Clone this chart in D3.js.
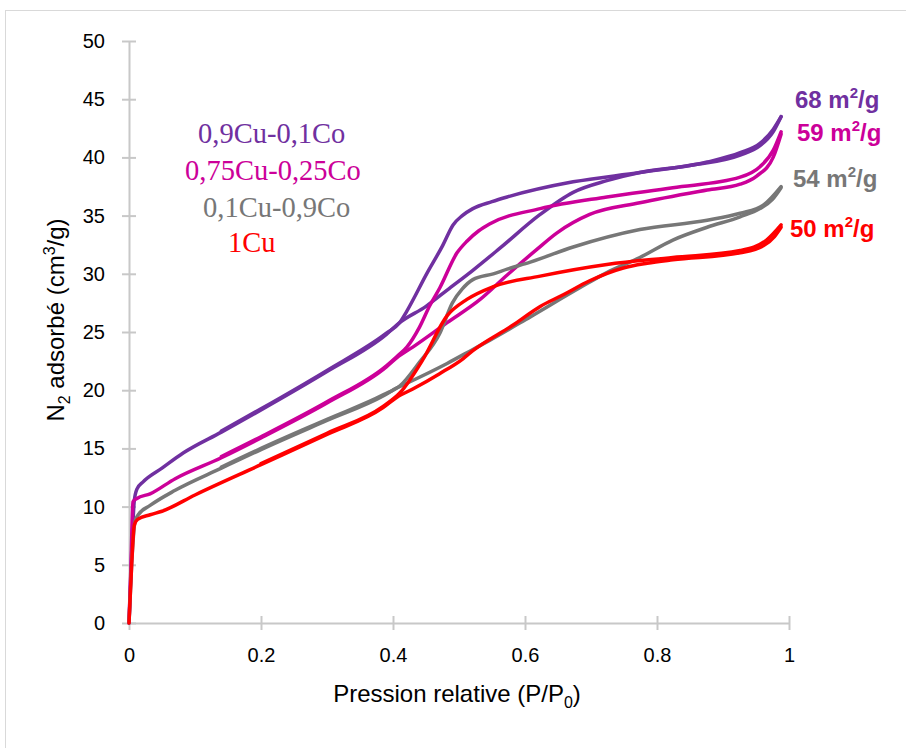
<!DOCTYPE html>
<html>
<head>
<meta charset="utf-8">
<script src="https://cdn.jsdelivr.net/npm/d3@7"></script>
<style>
  html, body { margin: 0; padding: 0; background: #fff; }
  svg { display: block; }
</style>
</head>
<body>
<svg id="chart" width="906" height="748"></svg>
<script>
// ---- Data (x = P/P0, y = N2 adsorbed cm3/g) ----
const xTicks = [0, 0.2, 0.4, 0.6, 0.8, 1];
const xTickLabels = ["0", "0.2", "0.4", "0.6", "0.8", "1"];
const yTicks = [0, 5, 10, 15, 20, 25, 30, 35, 40, 45, 50];

const seriesNames = ["0,9Cu-0,1Co", "0,75Cu-0,25Co", "0,1Cu-0,9Co", "1Cu"];
const surfaceLabels = ["68", "59", "54", "50"];

// 0,9Cu-0,1Co
const purpleAdsX = [0, 0.004, 0.008, 0.012, 0.021, 0.05, 0.082, 0.14, 0.2, 0.3, 0.39, 0.41, 0.45, 0.482, 0.521, 0.562, 0.623, 0.673, 0.724, 0.774, 0.85, 0.926, 0.956, 0.976, 0.988];
const purpleAdsY = [0, 6, 10.5, 11.5, 12.1, 13.3, 14.6, 16.4, 18.3, 21.6, 24.8, 25.8, 27.2, 28.6, 30.3, 32.2, 35.1, 37.0, 38.0, 38.7, 39.3, 40.2, 41.0, 42.2, 43.5];
const purpleDesX = [0.14, 0.2, 0.3, 0.39, 0.41, 0.421, 0.452, 0.475, 0.491, 0.505, 0.521, 0.55, 0.573, 0.673, 0.774, 0.876, 0.926, 0.956, 0.976, 0.988];
const purpleDesY = [16.5, 18.4, 21.7, 24.9, 25.8, 26.8, 30.1, 32.4, 34.2, 35.0, 35.6, 36.2, 36.6, 37.9, 38.7, 39.6, 40.4, 41.2, 42.4, 43.5];

// 0,75Cu-0,25Co
const magentaAdsX = [0, 0.003, 0.006, 0.012, 0.032, 0.07, 0.14, 0.2, 0.3, 0.39, 0.406, 0.43, 0.482, 0.532, 0.573, 0.618, 0.648, 0.698, 0.774, 0.876, 0.926, 0.951, 0.976, 0.988];
const magentaAdsY = [0, 5, 10.4, 10.7, 11.1, 12.4, 14.2, 15.9, 18.9, 22.0, 22.8, 23.7, 25.8, 27.8, 29.9, 32.1, 33.5, 35.1, 36.1, 37.2, 37.7, 38.4, 40.0, 42.0];
const magentaDesX = [0.14, 0.2, 0.3, 0.39, 0.406, 0.421, 0.44, 0.456, 0.471, 0.497, 0.512, 0.53, 0.547, 0.623, 0.724, 0.824, 0.926, 0.956, 0.976, 0.988];
const magentaDesY = [14.3, 16.0, 19.0, 22.1, 22.9, 23.7, 25.4, 27.3, 28.8, 31.8, 32.8, 33.7, 34.3, 35.6, 36.6, 37.4, 38.3, 39.2, 40.6, 42.2];

// 0,1Cu-0,9Co
const grayAdsX = [0, 0.004, 0.009, 0.014, 0.032, 0.07, 0.14, 0.2, 0.3, 0.385, 0.406, 0.421, 0.482, 0.521, 0.547, 0.608, 0.683, 0.724, 0.774, 0.824, 0.876, 0.926, 0.956, 0.975, 0.988];
const grayAdsY = [0, 5, 8.7, 9.3, 10.1, 11.4, 13.3, 14.9, 17.4, 19.5, 20.2, 20.6, 22.3, 23.5, 24.3, 26.3, 28.8, 30.1, 31.4, 32.9, 34.0, 34.9, 35.6, 36.4, 37.4];
const grayDesX = [0.14, 0.2, 0.3, 0.385, 0.411, 0.44, 0.471, 0.49, 0.505, 0.521, 0.552, 0.573, 0.608, 0.673, 0.774, 0.876, 0.926, 0.961, 0.988];
const grayDesY = [13.4, 15.0, 17.5, 19.6, 20.4, 22.4, 24.9, 27.5, 28.7, 29.5, 30.0, 30.4, 31.0, 32.3, 33.8, 34.6, 35.2, 35.9, 37.5];

// 1Cu
const redAdsX = [0, 0.004, 0.008, 0.013, 0.032, 0.05, 0.1, 0.2, 0.3, 0.385, 0.406, 0.43, 0.47, 0.506, 0.521, 0.582, 0.623, 0.658, 0.698, 0.749, 0.785, 0.824, 0.926, 0.961, 0.978, 0.988];
const redAdsY = [0, 5, 8.4, 8.9, 9.3, 9.6, 11.0, 13.6, 16.2, 18.5, 19.4, 20.1, 21.4, 22.7, 23.4, 25.6, 27.2, 28.2, 29.4, 30.5, 30.9, 31.2, 31.8, 32.4, 33.2, 34.0];
const redDesX = [0.2, 0.3, 0.385, 0.411, 0.445, 0.482, 0.512, 0.552, 0.623, 0.724, 0.824, 0.926, 0.966, 0.988];
const redDesY = [13.7, 16.3, 18.6, 19.8, 22.6, 26.4, 27.8, 28.9, 29.8, 30.8, 31.4, 32.0, 32.9, 34.2];

const colors = ["#7030A0", "#CC0099", "#777777", "#FF0000"];

const series = [
  { name: seriesNames[0], color: colors[0], branches: [[purpleAdsX, purpleAdsY], [purpleDesX, purpleDesY]] },
  { name: seriesNames[1], color: colors[1], branches: [[magentaAdsX, magentaAdsY], [magentaDesX, magentaDesY]] },
  { name: seriesNames[2], color: colors[2], branches: [[grayAdsX, grayAdsY], [grayDesX, grayDesY]] },
  { name: seriesNames[3], color: colors[3], branches: [[redAdsX, redAdsY], [redDesX, redDesY]] }
];

// ---- Layout ----
const svg = d3.select("#chart");
const x = d3.scaleLinear().domain([0, 1]).range([129, 789]);
const y = d3.scaleLinear().domain([0, 50]).range([623, 41]);

// outer chart border
svg.append("rect").attr("x", 5.5).attr("y", 10.5).attr("width", 920).attr("height", 760)
  .attr("fill", "none").attr("stroke", "#d9d9d9").attr("stroke-width", 1);

const axisColor = "#c8c8c8";
const sans = "'Liberation Sans', Arial, sans-serif";

// Y axis
const yAxis = svg.append("g").attr("transform", `translate(${x(0)},0)`)
  .call(d3.axisLeft(y).tickValues(yTicks).tickSize(7).tickSizeOuter(0).tickPadding(16));
yAxis.select(".domain").attr("stroke", axisColor).attr("stroke-width", 2);
yAxis.selectAll(".tick line").attr("stroke", axisColor).attr("stroke-width", 2).attr("x2", 7).attr("x1", -7);
yAxis.selectAll(".tick text").attr("font-family", sans).attr("font-size", 20).attr("fill", "#000").attr("x", -24);

// X axis
const xAxis = svg.append("g").attr("transform", `translate(0,${y(0)})`)
  .call(d3.axisBottom(x).tickValues(xTicks).tickFormat((d, i) => xTickLabels[i]).tickSize(7).tickSizeOuter(0).tickPadding(16));
xAxis.select(".domain").attr("stroke", axisColor).attr("stroke-width", 2);
xAxis.selectAll(".tick line").attr("stroke", axisColor).attr("stroke-width", 2).attr("y1", -7).attr("y2", 7);
xAxis.selectAll(".tick text").attr("font-family", sans).attr("font-size", 20).attr("fill", "#000")
  .attr("dy", null).attr("y", 39);

// Axis titles
const xt = svg.append("text").attr("x", 457).attr("y", 702).attr("text-anchor", "middle")
  .attr("font-family", sans).attr("font-size", 24).attr("fill", "#000");
xt.append("tspan").text("Pression relative (P/P");
xt.append("tspan").attr("font-size", 16).attr("dy", 6).text("0");
xt.append("tspan").attr("dy", -6).text(")");

const yt = svg.append("text").attr("transform", "translate(64,320) rotate(-90)").attr("text-anchor", "middle")
  .attr("font-family", sans).attr("font-size", 24).attr("fill", "#000");
yt.append("tspan").text("N");
yt.append("tspan").attr("font-size", 16).attr("dy", 6).text("2");
yt.append("tspan").attr("dy", -6).text(" adsorbé (cm");
yt.append("tspan").attr("font-size", 16).attr("dy", -9).text("3");
yt.append("tspan").attr("dy", 9).text("/g)");

// Curves
const line = d3.line().x(d => x(d[0])).y(d => y(d[1])).curve(d3.curveMonotoneX);
const curveLayer = svg.append("g");
series.forEach(s => {
  s.branches.forEach(([bx, by]) => {
    const pts = bx.map((v, i) => [v, by[i]]);
    curveLayer.append("path").datum(pts).attr("d", line)
      .attr("fill", "none").attr("stroke", s.color).attr("stroke-width", 3.5)
      .attr("stroke-linecap", "round").attr("stroke-linejoin", "round");
  });
});

// Legend (serif text labels)
const serif = "'Liberation Serif', 'Times New Roman', serif";
const legendPos = [[198, 143], [185, 180], [203, 217], [228, 252]];
seriesNames.forEach((n, i) => {
  svg.append("text").attr("x", legendPos[i][0]).attr("y", legendPos[i][1])
    .attr("font-family", serif).attr("font-size", 28.5).attr("fill", colors[i]).text(n);
});

// Surface area labels
const surfPos = [[795, 108], [797, 141], [793, 187], [790, 237]];
surfaceLabels.forEach((v, i) => {
  const t = svg.append("text").attr("x", surfPos[i][0]).attr("y", surfPos[i][1])
    .attr("font-family", sans).attr("font-weight", "bold").attr("font-size", 24).attr("fill", colors[i]);
  t.append("tspan").text(v + " m");
  t.append("tspan").attr("font-size", 15).attr("dy", -10).text("2");
  t.append("tspan").attr("dy", 10).text("/g");
});
</script>
</body>
</html>
